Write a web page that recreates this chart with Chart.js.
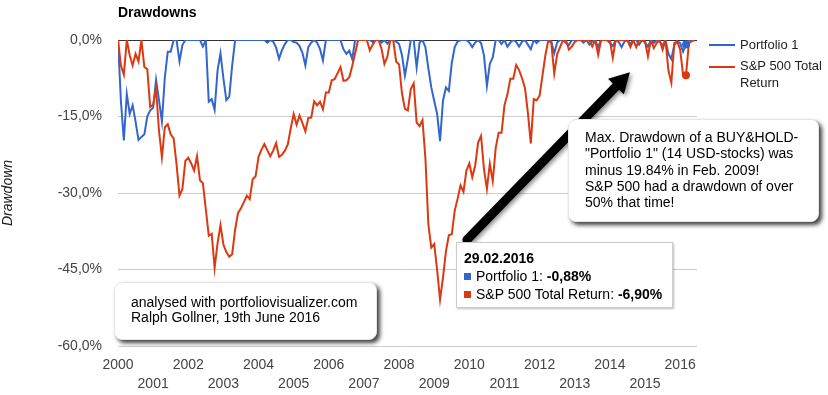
<!DOCTYPE html>
<html>
<head>
<meta charset="utf-8">
<script src="https://cdn.jsdelivr.net/npm/chart.js@4.4.1/dist/chart.umd.min.js"></script>
<style>
  html, body { margin: 0; padding: 0; background: #fff; }
  body { width: 828px; height: 395px; position: relative; overflow: hidden;
         font-family: Arial, 'Liberation Sans', sans-serif; }
  #chart { position: absolute; left: 0; top: 0; }
  .title { position: absolute; left: 118px; top: 4px; font-size: 14px; font-weight: bold; color: #000; }
  .legend { position: absolute; left: 709px; font-size: 13px; color: #222; }
  .legend .swatch { position: absolute; left: 0; width: 26px; height: 2px; }
  .legend .label { position: absolute; left: 31px; line-height: 16.6px; white-space: nowrap; }
  .note { position: absolute; box-sizing: border-box; background: #fff; border: 1px solid #e6e6e6;
          border-radius: 8px; box-shadow: 3px 3px 4px rgba(0,0,0,0.75); font-size: 14px; color: #000;
          white-space: nowrap; }
  .tip { position: absolute; box-sizing: border-box; background: #fff; border: 1px solid #cccccc;
         box-shadow: 1px 1px 2px rgba(0,0,0,0.25); font-size: 14px; color: #000; line-height: 18px;
         padding: 6px 0 0 7px; white-space: nowrap; }
  .tip .sq { display: inline-block; width: 7px; height: 7px; margin-right: 5px; vertical-align: 1px; }
</style>
</head>
<body>
<canvas id="chart" width="828" height="395"></canvas>
<div class="title">Drawdowns</div>

<div class="legend" style="top:0">
  <div class="swatch" style="top:44px;background:#3366cc"></div>
  <div class="label" style="top:37px">Portfolio 1</div>
  <div class="swatch" style="top:66px;background:#dc3912"></div>
  <div class="label" style="top:58px">S&amp;P 500 Total<br>Return</div>
</div>

<div class="note" style="left:568px;top:119px;width:251px;height:103px;padding:9px 0 0 16px;line-height:16.3px">
  Max. Drawdown of a BUY&amp;HOLD-<br>"Portfolio 1" (14 USD-stocks) was<br>minus 19.84% in Feb. 2009!<br>S&amp;P 500 had a drawdown of over<br>50% that time!
</div>

<div class="note" style="left:114px;top:282px;width:263px;height:58px;padding:12px 0 0 16px;line-height:14.7px">
  analysed with portfoliovisualizer.com<br>Ralph Gollner, 19th June 2016
</div>

<div class="tip" id="tip" style="left:456px;top:242px;width:217px;height:66px"></div>

<script>
// Monthly drawdowns in %, first entry is the start (Dec 1999), then Jan 2000 .. May 2016
const START_YEAR = 2000;
const SERIES_NAMES = ['Portfolio 1', 'S&P 500 Total Return'];

const PORTFOLIO_1 = [
  0,
  -12.0, -19.7, -10.6, -14.5, -12.8, -16.0, -19.6, -19.0, -18.5, -15.0, -13.8, -13.3, // 2000
  -7.8, -11.8, -16.0, -7.3, -2.3, -2.3, 0, 0, -4.2, -1.0, 0, 0,                         // 2001
  0, 0, 0, 0, -1.3, 0, -12.1, -11.6, -13.7, -6.0, -2.6, -7.5,                            // 2002
  -11.8, -11.1, -5.0, 0, 0, 0, 0, 0, 0, 0, 0, 0,                                        // 2003
  0, 0, -0.5, 0, -0.3, -1.5, -3.7, -2.0, -0.8, 0, 0, -0.4,                              // 2004
  -0.5, -1.2, -2.5, -5.0, -1.4, -0.5, 0, -0.5, -1.8, -4.0, 0, 0,                        // 2005
  0, 0, 0, 0, -1.8, -2.7, -2.1, -3.7, 0, 0, 0, 0,                                       // 2006
  0, 0, -0.4, 0, 0, -0.5, 0, -0.7, 0, 0, -0.3, -0.8,                                    // 2007
  -3.0, -7.0, -3.7, 0, 0, -5.4, -0.5, 0, -1.4, -5.5, -9.3, -11.9,                       // 2008
  -14.5, -19.84, -11.9, -9.3, -10.0, -4.5, -1.4, -0.3, 0, 0, 0, -0.5,                   // 2009
  -1.4, -0.5, 0, -0.6, -3.0, -9.0, -4.7, -3.4, 0, 0, -0.8, 0,                           // 2010
  -1.3, -0.5, 0, -0.4, -1.3, -0.3, 0, -0.9, -1.8, 0, -0.6, 0,                           // 2011
  0, 0, 0, -0.3, -2.6, -0.5, 0, 0, -0.6, -1.0, 0, 0,                                    // 2012
  0, 0, -0.5, 0, -0.9, -0.3, 0, -1.4, 0, 0, 0, -0.6,                                    // 2013
  -1.2, 0, -0.4, -1.4, -0.3, 0, -0.8, 0, 0, -0.9, 0, -0.5,                              // 2014
  -1.3, 0, -0.6, 0, -0.3, -1.1, 0, -2.7, -3.7, -1.0, -0.2, -0.6,                        // 2015
  -2.3, -0.88, 0, 0, 0                                                                  // 2016
];

const SP500_TR = [
  0,
  -5.0, -6.8, 0, -3.0, -5.0, -2.7, -4.2, 0, -5.3, -5.7, -13.1, -12.7,                   // 2000
  -9.6, -17.8, -23.0, -17.1, -16.5, -18.5, -19.3, -24.4, -30.5, -29.2, -23.7, -23.1,    // 2001
  -24.2, -25.6, -22.8, -27.5, -28.1, -33.2, -38.4, -38.0, -44.7, -39.9, -36.3, -40.1,   // 2002
  -41.6, -42.5, -42.0, -37.2, -33.9, -33.0, -31.8, -30.5, -31.2, -27.3, -26.7, -22.9,   // 2003
  -21.5, -20.4, -21.6, -22.8, -21.7, -20.2, -22.9, -22.5, -21.7, -20.5, -17.3, -14.5,   // 2004
  -16.6, -14.8, -16.3, -17.9, -15.3, -15.2, -12.0, -12.8, -12.1, -13.6, -10.3, -10.3,   // 2005
  -7.9, -7.7, -6.5, -5.3, -8.0, -7.9, -7.3, -5.1, -2.6, 0, 0, 0,                        // 2006
  0, -2.0, -0.9, 0, 0, -1.7, -4.7, -3.3, 0, 0, -4.2, -4.8,                              // 2007
  -10.5, -13.5, -13.8, -9.6, -8.5, -16.2, -16.9, -15.7, -23.2, -36.1, -40.7, -40.0,     // 2008
  -45.1, -50.9, -46.6, -41.5, -38.3, -38.1, -33.5, -31.1, -28.5, -29.8, -25.6, -24.2,   // 2009
  -26.9, -24.6, -20.1, -18.8, -25.3, -29.2, -24.3, -27.7, -21.2, -18.2, -18.2, -12.8,   // 2010
  -10.7, -7.6, -7.6, -4.9, -5.9, -7.5, -9.4, -14.3, -20.3, -11.6, -11.8, -10.9,         // 2011
  -6.9, -2.9, 0, -0.6, -6.6, -2.8, -1.4, 0, 0, -1.9, -1.3, -0.4,                        // 2012
  0, 0, 0, 0, 0, -1.3, 0, -2.9, 0, 0, 0, 0,                                             // 2013
  -3.5, 0, 0, 0, 0, 0, -1.4, 0, -1.4, 0, 0, -0.3,                                       // 2014
  -3.2, 0, -1.6, -0.6, 0, -1.9, 0, -6.0, -8.4, -0.6, -0.3, -1.9,                        // 2015
  -6.8, -6.9, -0.6, -0.2, 0                                                             // 2016
];

const YEAR_TICKS = [2000, 2001, 2002, 2003, 2004, 2005, 2006, 2007, 2008,
                    2009, 2010, 2011, 2012, 2013, 2014, 2015, 2016];
const Y_TICKS = [0, -15, -30, -45, -60];

// highlighted month: 29.02.2016
const TIP_INDEX = 194;
const TIP_DATE = '29.02.2016';

// arrow annotation, in data units [year, drawdown %]
const ARROW_FROM = [2009.93, -39.2];
const ARROW_TO = [2014.57, -6.3];

const BLUE = '#3366cc';
const RED = '#dc3912';
const FONT = "Arial, 'Liberation Sans', sans-serif";

const dateOf = i => START_YEAR + i / 12;
const toPoints = arr => arr.map((v, i) => ({ x: dateOf(i), y: v }));
const pct = v => v.toFixed(2).replace('.', ',') + '%';

// tooltip box
document.getElementById('tip').innerHTML =
  '<div style="font-weight:bold">' + TIP_DATE + '</div>' +
  '<div><span class="sq" style="background:' + BLUE + '"></span>' + SERIES_NAMES[0] +
  ': <b>' + pct(PORTFOLIO_1[TIP_INDEX]) + '</b></div>' +
  '<div><span class="sq" style="background:' + RED + '"></span>' + SERIES_NAMES[1] +
  ': <b>' + pct(SP500_TR[TIP_INDEX]) + '</b></div>';

const arrowPlugin = {
  id: 'arrow',
  afterDraw(chart) {
    const { ctx, scales: { x, y } } = chart;
    const x0 = x.getPixelForValue(ARROW_FROM[0]), y0 = y.getPixelForValue(ARROW_FROM[1]);
    const x1 = x.getPixelForValue(ARROW_TO[0]), y1 = y.getPixelForValue(ARROW_TO[1]);
    const a = Math.atan2(y1 - y0, x1 - x0);
    const head = 20, half = 11;
    const bx = x1 - head * Math.cos(a), by = y1 - head * Math.sin(a);
    ctx.save();
    ctx.shadowColor = 'rgba(0,0,0,0.45)';
    ctx.shadowBlur = 4;
    ctx.shadowOffsetX = 2;
    ctx.shadowOffsetY = 2;
    ctx.strokeStyle = '#000';
    ctx.fillStyle = '#000';
    ctx.lineWidth = 9;
    ctx.lineCap = 'round';
    ctx.beginPath();
    ctx.moveTo(x0, y0);
    ctx.lineTo(bx + 2 * Math.cos(a), by + 2 * Math.sin(a));
    ctx.stroke();
    ctx.beginPath();
    ctx.moveTo(x1, y1);
    ctx.lineTo(bx - half * Math.sin(a), by + half * Math.cos(a));
    ctx.lineTo(bx + half * Math.sin(a), by - half * Math.cos(a));
    ctx.closePath();
    ctx.fill();
    ctx.restore();
  }
};

const lineSet = (label, arr, color, order) => ({
  label,
  data: toPoints(arr),
  borderColor: color,
  backgroundColor: color,
  borderWidth: 2,
  pointRadius: 0,
  tension: 0,
  order,
});

// hovered points, drawn above both lines
const dotSet = (arr, color) => ({
  data: [{ x: dateOf(TIP_INDEX), y: arr[TIP_INDEX] }],
  showLine: false,
  pointRadius: 4,
  pointBorderWidth: 0,
  backgroundColor: color,
  borderColor: color,
  order: -1,
});

new Chart(document.getElementById('chart'), {
  type: 'line',
  data: {
    datasets: [
      lineSet(SERIES_NAMES[1], SP500_TR, RED, 0),
      lineSet(SERIES_NAMES[0], PORTFOLIO_1, BLUE, 1),
      dotSet(PORTFOLIO_1, BLUE),
      dotSet(SP500_TR, RED),
    ],
  },
  plugins: [arrowPlugin],
  options: {
    responsive: false,
    animation: false,
    events: [],
    layout: { padding: { top: 40, right: 131, left: 0, bottom: 0 } },
    plugins: { legend: { display: false }, tooltip: { enabled: false }, title: { display: false } },
    scales: {
      x: {
        type: 'linear',
        min: 2000,
        max: 2016.48,
        grid: { display: false, drawTicks: false },
        border: { display: false },
        afterFit: s => { s.height = 49; },
        afterBuildTicks: s => { s.ticks = YEAR_TICKS.map(v => ({ value: v })); },
        ticks: {
          autoSkip: false,
          maxRotation: 0,
          padding: 10,
          color: '#444',
          font: { family: FONT, size: 14, lineHeight: '19px' },
          callback: v => ((v - START_YEAR) % 2 === 0 ? [String(v), ''] : ['', String(v)]),
        },
      },
      y: {
        min: -60,
        max: 0,
        afterFit: s => { s.width = 118; },
        afterBuildTicks: s => { s.ticks = Y_TICKS.map(v => ({ value: v })); },
        grid: {
          drawTicks: false,
          color: c => (c.tick && c.tick.value === 0 ? '#333333' : '#cccccc'),
        },
        border: { display: false },
        ticks: {
          padding: 16,
          color: '#444',
          font: { family: FONT, size: 14 },
          callback: v => v.toFixed(1).replace('.', ',') + '%',
        },
        title: {
          display: true,
          text: 'Drawdown',
          color: '#222',
          padding: 0,
          font: { family: FONT, size: 14, style: 'italic' },
        },
      },
    },
  },
});
</script>
</body>
</html>
